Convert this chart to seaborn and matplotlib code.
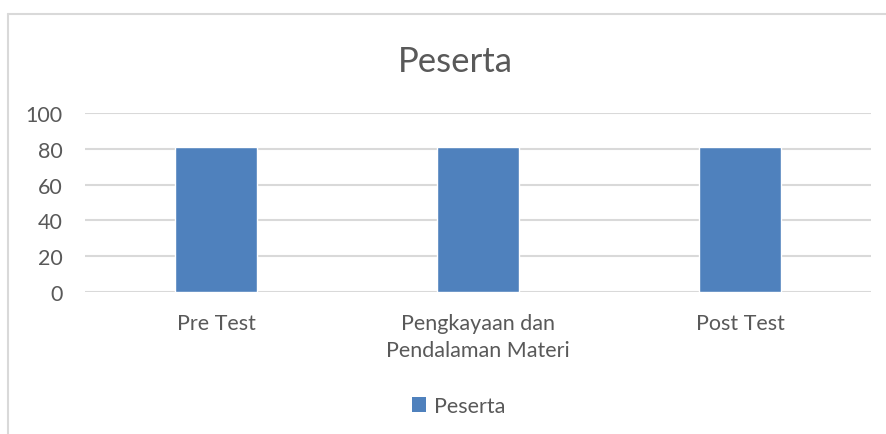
import matplotlib.pyplot as plt
import seaborn as sns
import pandas as pd
from matplotlib.lines import Line2D
from matplotlib.patches import Patch

categories = ["Pre Test", "Pengkayaan dan\nPendalaman Materi", "Post Test"]
peserta = [81, 81, 81]
y_ticks = [0, 20, 40, 60, 80, 100]

df = pd.DataFrame({"kategori": categories, "Peserta": peserta})

sns.set_style("white")
plt.rcParams['font.family'] = ['Lato', 'DejaVu Sans']
text_color = "#595959"
bar_color = "#4f81bd"

fig = plt.figure(figsize=(8.86, 4.35), dpi=100)
ax = fig.add_axes([0.096, 0.3264, 0.887, 0.4115])

sns.barplot(data=df, x="kategori", y="Peserta", color=bar_color, width=0.31,
            saturation=1, ax=ax, zorder=3)

ax.set_ylim(0, 100)
ax.set_xlim(-0.5, 2.5)
ax.set_yticks(y_ticks)
ax.yaxis.grid(True, color="#d9d9d9", linewidth=1.5, zorder=0)
ax.set_axisbelow(True)
sns.despine(ax=ax, left=True, bottom=True)
ax.set_xlabel("")
ax.set_ylabel("")
ax.tick_params(axis="both", length=0, labelsize=15.5, colors=text_color)
ax.tick_params(axis="y", pad=16)
ax.tick_params(axis="x", pad=15)
for lbl in ax.get_xticklabels():
    lbl.set_linespacing(1.45)

fig.text(0.514, 0.857, "Peserta", ha="center", va="center", fontsize=25, color=text_color)

handles = [Patch(facecolor=bar_color, edgecolor="none", label="Peserta")]
fig.legend(handles=handles, loc="center", bbox_to_anchor=(0.518, 0.064), frameon=False,
           fontsize=15.5, labelcolor=text_color, handlelength=0.65, handleheight=0.65,
           handletextpad=0.35)

# chart frame, top and left edges visible
fig.add_artist(Line2D([0.009, 1.0], [0.966, 0.966], color="#d9d9d9", linewidth=1.5))
fig.add_artist(Line2D([0.0095, 0.0095], [0.0, 0.966], color="#d9d9d9", linewidth=1.5))

fig.savefig("out.png", dpi=100)
